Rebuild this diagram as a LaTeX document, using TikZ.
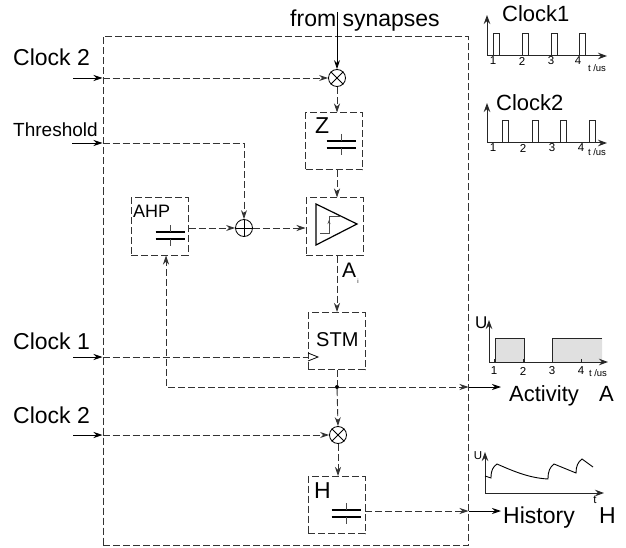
\documentclass[tikz,border=0pt]{standalone}
\usepackage{fontspec}
\setmainfont{Liberation Sans}
\usepackage{xcolor}
\usetikzlibrary{arrows.meta,positioning,calc}
\definecolor{dashgray}{gray}{0.2}
\definecolor{pulsefill}{gray}{0.88}
\tikzset{
  big/.style={anchor=base west,inner sep=0pt,font=\fontsize{23}{25}\selectfont},
  mid/.style={anchor=base west,inner sep=0pt,font=\fontsize{20}{22}\selectfont},
  tick/.style={inner sep=0pt,font=\fontsize{11.5}{12}\selectfont},
  unit/.style={inner sep=0pt,font=\fontsize{9.5}{10}\selectfont},
  blockbox/.style={draw=dashgray,line width=1pt,dash pattern=on 7pt off 3pt,minimum width=57pt,minimum height=57pt,inner sep=0pt},
  mixer/.style={draw,circle,minimum size=17pt,inner sep=0pt,line width=0.8pt},
  sig/.style={-{Stealth[length=9pt,width=6pt]},line width=0.9pt},
  dsig/.style={sig,draw=dashgray,dash pattern=on 7pt off 3pt},
  plainsig/.style={draw=dashgray,line width=0.9pt,dash pattern=on 7pt off 3pt},
  axis/.style={-{Stealth[length=9pt,width=6.5pt]},line width=1pt,draw=black!85}
}
\begin{document}
\begin{tikzpicture}[x=1pt,y=-1pt]
\useasboundingbox (0,0) rectangle (626,548);
% main frame
\node[blockbox,minimum width=365pt,minimum height=509pt] (frame) at (285.5,291) {};
\node[blockbox] (Z) at (334,141.5) {};
\node[blockbox] (comp) at (334.5,226.5) {};
\node[blockbox] (AHP) at (159.5,226.5) {};
\node[blockbox] (STM) at (336.5,341) {};
\node[blockbox] (Hist) at (336.5,505) {};
\node[mixer] (multa) at (337,78) {};
\node[mixer] (adder) at (244,228) {};
\node[mixer] (multb) at (338,435) {};
\draw[line width=0.8pt] (multa.45) -- (multa.225) (multa.135) -- (multa.315);
\draw[line width=0.8pt] (multb.45) -- (multb.225) (multb.135) -- (multb.315);
\draw[line width=0.8pt] (adder.north) -- (adder.south) (adder.west) -- (adder.east);
\node[circle,fill,inner sep=0pt,minimum size=4pt] (junc) at (337,387) {};
\coordinate (fb) at (166,387);
\coordinate (syn) at (337,12);
\coordinate (clka) at (73,78);
\coordinate (thr) at (72,143);
\coordinate (clkc) at (73,357);
\coordinate (clkb) at (73,435);
\coordinate (act) at (501,387);
\coordinate (hout) at (501,511);
\coordinate (hcap) at (365,511);
\coordinate (stmclk) at (308,357);
% capacitors
\foreach \cx/\cy in {341/144.5,170/235.5,346/513.5} {
  \draw[line width=1.1pt] (\cx-14.5,\cy-3.5) -- (\cx+14.5,\cy-3.5) (\cx-14.5,\cy+3.5) -- (\cx+14.5,\cy+3.5);
  \draw[draw=black!70,line width=0.8pt] (\cx,\cy-10.5) -- (\cx,\cy-3.5) (\cx,\cy+3.5) -- (\cx,\cy+10.5);
}
% comparator
\draw[line width=1.2pt] (316,204) -- (357,224) -- (316,245) -- cycle;
\draw[draw=black!70,line width=0.8pt] (320,233) -- (329,233) -- (329,216) -- (340,216);
\draw[-{Stealth[length=4pt,width=3pt]},draw=black!70,line width=0.8pt] (329,231) -- (329,220);
\draw[line width=0.8pt] (308,353) -- (318,357) -- (308,361);
% connectors
\draw[sig] (syn) -- (multa.north);
\draw[sig] (clka) -- (clka -| frame.west);
\draw[dsig] (clka -| frame.west) -- (multa.west);
\draw[dsig] (multa.south) -- (multa.south |- Z.north);
\draw[dsig] (multa.south |- Z.south) -- (multa.south |- comp.north);
\draw[sig] (thr) -- (thr -| frame.west);
\draw[dsig] (thr -| frame.west) -- (thr -| adder.north) -- (adder.north);
\draw[dsig] (adder.east) -- (comp.west |- adder.east);
\draw[dsig] (AHP.east |- adder.west) -- (adder.west);
\draw[dsig] (multa.south |- comp.south) -- (multa.south |- STM.north);
\draw[sig] (clkc) -- (clkc -| frame.west);
\draw[plainsig] (clkc -| frame.west) -- (stmclk);
\draw[plainsig] (junc |- STM.south) -- (junc);
\draw[dsig] (junc) -- (multb.north);
\draw[dsig] (junc) -- (fb) -- (fb |- AHP.south);
\draw[dsig] (junc) -- (junc -| frame.east);
\draw[sig] (junc -| frame.east) -- (act);
\draw[sig] (clkb) -- (clkb -| frame.west);
\draw[dsig] (clkb -| frame.west) -- (multb.west);
\draw[dsig] (multb.south) -- (multb.south |- Hist.north);
\draw[dsig] (hcap) -- (hcap -| frame.east);
\draw[sig] (hcap -| frame.east) -- (hout);
% labels
\node[big] (fromlab) at (290,27) {from synapses};
\node[big] (clkalab) at (13,66) {Clock 2};
\node[mid,font=\fontsize{19}{21}\selectfont] (thrlab) at (13,137) {Threshold};
\node[big] (clkclab) at (13,349) {Clock 1};
\node[big] (clkblab) at (13,423) {Clock 2};
\node[mid,font=\fontsize{18}{20}\selectfont] (ahplab) at (133,217) {AHP};
\node[big] (zlab) at (315,134) {Z};
\node[mid,font=\fontsize{21}{23}\selectfont] (ailab) at (342,277) {A};
\node[inner sep=0pt,font=\fontsize{6}{6}\selectfont] (ilab) at (358,281) {i};
\node[mid] (stmlab) at (316,346) {STM};
\node[big] (hlab) at (314,498) {H};
\node[big,font=\fontsize{22}{24}\selectfont] (clk1title) at (502,22) {Clock1};
\node[big,font=\fontsize{22}{24}\selectfont] (clk2title) at (496,111) {Clock2};
\node[big,font=\fontsize{22}{24}\selectfont] (actlab) at (509,401) {Activity};
\node[big,font=\fontsize{22}{24}\selectfont] (alab) at (599,401) {A};
\node[big] (histlab) at (503,523) {History};
\node[big] (hlabb) at (599,523) {H};
% clock 1
\draw[axis] (487,56) -- (487,15);
\draw[axis] (487,56) -- (607,56);
\foreach \px in {493,522,551,579} \draw[draw=black!85,line width=0.9pt] (\px,56) -- (\px,33) -- (\px+6.5,33) -- (\px+6.5,56);
\foreach \px/\lab in {493/1,522/2,551/3,578/4} \node[tick] at (\px,61) {\lab};
\node[unit] at (597,68) {t /us};
% clock 2
\draw[axis] (487,143) -- (487,103);
\draw[axis] (487,143) -- (607,143);
\foreach \px in {502,532,560,589} \draw[draw=black!85,line width=0.9pt] (\px,143) -- (\px,120) -- (\px+6.5,120) -- (\px+6.5,143);
\foreach \px/\lab in {493/1,523/2,552/3,581/4} \node[tick] at (\px,148) {\lab};
\node[unit] at (597,152) {t /us};
% activity
\fill[pulsefill] (495,338) rectangle (524,362) (552,338) rectangle (602,362);
\draw[draw=black!85,line width=0.9pt] (495,362) -- (495,338) -- (524,338) -- (524,362);
\draw[draw=black!85,line width=0.9pt] (552,362) -- (552,338) -- (602,338);
\draw[axis] (489,362) -- (489,320);
\draw[axis] (489,362) -- (608,362);
\foreach \px/\lab in {494/1,523/2,552/3,581/4} {
  \draw[draw=black!85,line width=0.8pt] (\px,362) -- (\px,359);
  \node[tick] at (\px,371) {\lab};
}
\node[unit] at (598,373) {t /us};
\node[mid,font=\fontsize{17}{19}\selectfont] (ulab) at (475,328) {U};
% history
\draw[axis] (485,493) -- (485,452);
\draw[axis] (485,493) -- (604,493);
\draw[line width=0.9pt] (485,476) -- (491,478) .. controls (491,470) and (493,467) .. (497,464)
  .. controls (515,472) and (530,478) .. (548,479) .. controls (548,471) and (550,467) .. (554,464)
  -- (576,473) .. controls (576,466) and (578,462) .. (582,459) -- (593,467);
\node[tick] (ulabb) at (478,456) {U};
\node[tick] (tlab) at (595,500) {t};
\end{tikzpicture}
\end{document}
